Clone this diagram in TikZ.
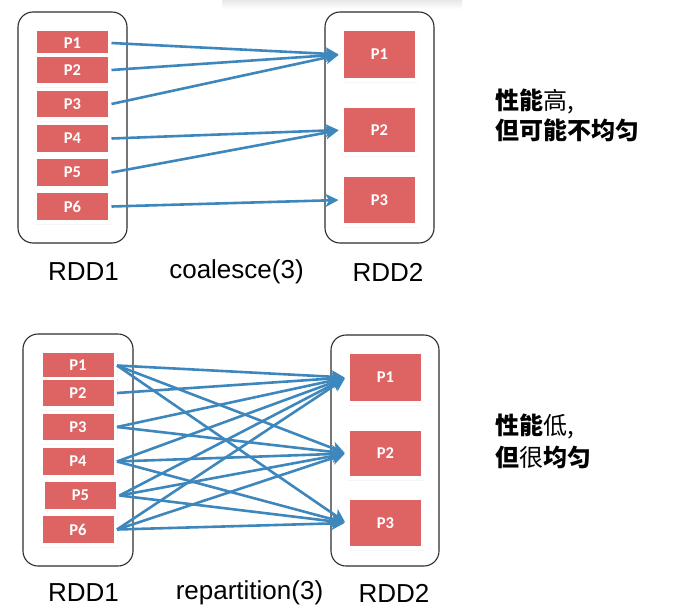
\documentclass[tikz,border=0pt]{standalone}
\usepackage{fontspec}
\setmainfont{Liberation Sans}
\newfontfamily\cjk{Noto Sans CJK SC}
\newfontfamily\plab{Carlito}
\usetikzlibrary{arrows.meta,shadows.blur}
\definecolor{pred}{RGB}{222,100,100}
\definecolor{ablue}{RGB}{62,135,189}
\definecolor{frame}{RGB}{45,45,45}
\tikzset{
  outerbox/.style={draw=frame, line width=1.1pt, rounded corners=15pt},
  part/.style={fill=pred, draw=white, line width=3.5pt, minimum width=74.5pt, inner sep=0pt,
    text=white, font=\plab\bfseries\fontsize{16.5}{16.5}\selectfont,
    blur shadow={shadow xshift=0.6pt, shadow yshift=-1.2pt, shadow blur steps=4, shadow blur radius=2pt, shadow opacity=35}},
  flow/.style={draw=ablue, line width=2.6pt, -{Stealth[length=13pt,width=13pt,inset=3.5pt]}, shorten >=2pt},
  lbl/.style={font=\fontsize{26}{30}\selectfont, inner sep=0pt},
  note/.style={font=\cjk\fontsize{24}{28}\selectfont, anchor=west, inner sep=0pt}
}
\begin{document}
\begin{tikzpicture}[x=1pt,y=-1pt]
\useasboundingbox (0,0) rectangle (698,610);
\shade[top color=black!9, bottom color=white] (222,0) rectangle (462,9);

% ---------- top ----------
\node[outerbox, minimum width=109pt, minimum height=231pt] (tl) at (72.5,127.5) {};
\node[outerbox, minimum width=109pt, minimum height=231pt] (tr) at (379.5,127.5) {};

\node[part, minimum height=27pt] (a1) at (72.5,43) {P1};
\node[part, minimum height=29.5pt] (a2) at (72.5,70) {P2};
\node[part, minimum height=29.5pt] (a3) at (72.5,104) {P3};
\node[part, minimum height=30.5pt] (a4) at (72.5,138.5) {P4};
\node[part, minimum height=30.5pt] (a5) at (72.5,172.5) {P5};
\node[part, minimum height=30.5pt] (a6) at (72.5,206.5) {P6};

\node[part, minimum height=50.5pt] (b1) at (379.5,54.5) {P1};
\node[part, minimum height=47.5pt] (b2) at (379.5,130) {P2};
\node[part, minimum height=49.5pt] (b3) at (379.5,200) {P3};

\draw[flow] (a1.east) -- (b1.west);
\draw[flow] (a2.east) -- (b1.west);
\draw[flow] (a3.east) -- (b1.west);
\draw[flow] (a4.east) -- (b2.west);
\draw[flow] (a5.east) -- (b2.west);
\draw[flow] (a6.east) -- (b3.west);

\node[lbl] (t1) at (83.5,272) {RDD1};
\node[lbl] (t2) at (236.5,272) {coalesce(3)};
\node[lbl] (t3) at (388,272) {RDD2};

\node[note] (n1) at (495,101) {\bfseries 性能\mdseries 高,};
\node[note] (n2) at (495,130) {\bfseries 但可能不均匀};

% ---------- bottom ----------
\node[outerbox, minimum width=110pt, minimum height=232pt] (bl) at (78,450) {};
\node[outerbox, minimum width=108pt, minimum height=231pt] (br) at (385,450.5) {};

\node[part, minimum height=28pt] (c1) at (78,365.5) {P1};
\node[part, minimum height=29.5pt] (c2) at (78,393) {P2};
\node[part, minimum height=29.5pt] (c3) at (78,427) {P3};
\node[part, minimum height=30.5pt] (c4) at (78,461.5) {P4};
\node[part, minimum height=30.5pt] (c5) at (80.5,495.5) {P5};
\node[part, minimum height=30.5pt] (c6) at (78,529.5) {P6};

\node[part, minimum height=50.5pt] (d1) at (385.5,377.5) {P1};
\node[part, minimum height=48.5pt] (d2) at (385.5,453.5) {P2};
\node[part, minimum height=49.5pt] (d3) at (385.5,523) {P3};

\draw[flow] (c1.east) -- (d1.west);
\draw[flow] (c1.east) -- (d2.west);
\draw[flow] (c1.east) -- (d3.west);
\draw[flow] (c2.east) -- (d1.west);
\draw[flow] (c3.east) -- (d1.west);
\draw[flow] (c3.east) -- (d2.west);
\draw[flow] (c4.east) -- (d1.west);
\draw[flow] (c4.east) -- (d2.west);
\draw[flow] (c4.east) -- (d3.west);
\draw[flow] (c5.east) -- (d1.west);
\draw[flow] (c5.east) -- (d2.west);
\draw[flow] (c5.east) -- (d3.west);
\draw[flow] (c6.east) -- (d1.west);
\draw[flow] (c6.east) -- (d2.west);
\draw[flow] (c6.east) -- (d3.west);

\node[lbl] (u1) at (83.5,593) {RDD1};
\node[lbl] (u2) at (249.5,593) {repartition(3)};
\node[lbl] (u3) at (394,593) {RDD2};

\node[note] (m1) at (495,426) {\bfseries 性能\mdseries 低,};
\node[note] (m2) at (495,457) {\bfseries 但\mdseries 很\bfseries 均匀};
\end{tikzpicture}
\end{document}
